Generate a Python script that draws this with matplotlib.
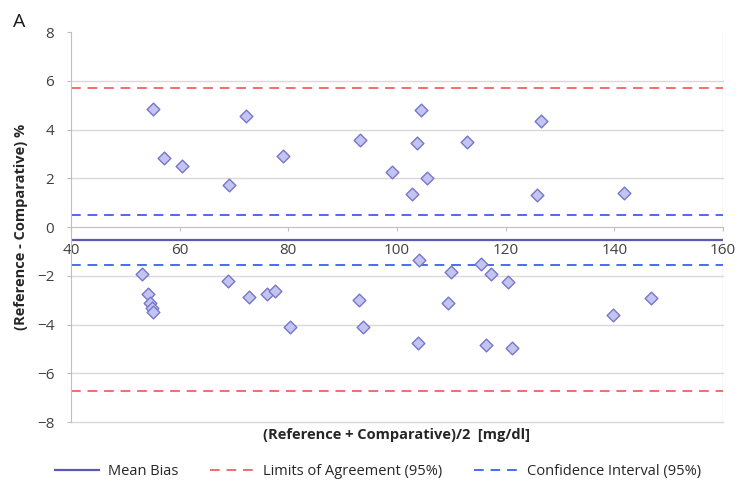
import numpy as np
import matplotlib
matplotlib.use("Agg")
import matplotlib.pyplot as plt
from matplotlib.lines import Line2D

# Datos (promedio, diferencia %)
mean_upper = [55.1, 57.1, 60.4, 69.1, 72.2, 79.1, 93.2, 99.0, 102.8, 103.7,
              104.5, 105.6, 112.8, 126.5, 125.7, 141.7]
diff_upper = [4.83, 2.84, 2.50, 1.72, 4.54, 2.91, 3.57, 2.24, 1.35, 3.43,
              4.80, 2.00, 3.50, 4.36, 1.31, 1.41]
mean_lower = [53.0, 54.2, 54.5, 55.0, 55.1, 68.9, 72.7, 76.1, 77.5, 80.4,
              93.0, 93.8, 104.0, 103.9, 109.3, 109.9, 115.5, 117.3, 116.3,
              120.5, 121.1, 139.8, 146.8]
diff_lower = [-1.93, -2.75, -3.10, -3.31, -3.49, -2.20, -2.89, -2.76, -2.61,
              -4.09, -2.99, -4.12, -1.35, -4.75, -3.10, -1.86, -1.50, -1.93,
              -4.84, -2.24, -4.95, -3.62, -2.93]

mean_bias = -0.52
loa = [5.70, -6.73]
ci = [0.49, -1.56]

x_ticks = [40, 60, 80, 100, 120, 140, 160]
y_ticks = [-8, -6, -4, -2, 0, 2, 4, 6, 8]

plt.rcParams['font.family'] = ['Open Sans', 'DejaVu Sans']

fig = plt.figure(figsize=(7.37, 4.8), dpi=100)
ax = fig.add_axes([0.0963, 0.1208, 0.8847, 0.8125])

x = mean_upper + mean_lower
y = diff_upper + diff_lower

# Grilla horizontal (sin la de 0 ni la de 8)
for yt in y_ticks:
    if yt not in (0, 8):
        ax.axhline(yt, color='#d9d9d9', lw=1.0, zorder=0, clip_on=False)
ax.axvline(160, color='#d9d9d9', lw=1.0, zorder=0)

# Lineas de referencia
ax.axhline(mean_bias, color='#5a5ab4', lw=1.6, zorder=2)
for v in loa:
    ax.axhline(v, color='#f26d6d', lw=1.4, ls=(0, (5, 3.5)), zorder=2)
for v in ci:
    ax.axhline(v, color='#4a6cf0', lw=1.4, ls=(0, (5, 3.5)), zorder=2)

ax.scatter(x, y, marker='D', s=42, facecolor='#c4c4f0', edgecolor='#7676cc',
           linewidth=1.0, zorder=3)

ax.set_xlim(40, 160)
ax.set_ylim(-8, 8)
ax.set_xticks(x_ticks)
ax.set_yticks(y_ticks)

ax.spines['top'].set_visible(False)
ax.spines['right'].set_visible(False)
ax.spines['bottom'].set_position(('data', 0))
ax.spines['bottom'].set_color('#bfbfbf')
ax.spines['left'].set_color('#bfbfbf')

ax.tick_params(axis='x', length=3, pad=8.5, color='#bfbfbf', labelsize=11,
               labelcolor='#404040')
ax.tick_params(axis='y', length=3, pad=9, color='#bfbfbf', labelsize=11,
               labelcolor='#404040')

ax.set_ylabel('(Reference - Comparative) %', fontsize=10.5, fontweight='bold',
              color='#262626', labelpad=6)
fig.text(0.538, 0.094, '(Reference + Comparative)/2  [mg/dl]',
         ha='center', va='center', fontsize=10.5, fontweight='bold', color='#262626')

fig.text(0.018, 0.955, 'A', fontsize=14, color='#1a1a1a', va='center')

handles = [
    Line2D([], [], color='#5a5ab4', lw=1.6),
    Line2D([], [], color='#f26d6d', lw=1.4, ls=(0, (5, 3.5))),
    Line2D([], [], color='#4a6cf0', lw=1.4, ls=(0, (5, 3.5))),
]
labels = ['Mean Bias', 'Limits of Agreement (95%)', 'Confidence Interval (95%)']
fig.legend(handles, labels, loc='center', bbox_to_anchor=(0.513, 0.0167), ncol=3,
           frameon=False, fontsize=10.5, handlelength=3.0, columnspacing=2.2,
           handletextpad=0.6, labelcolor='#262626')

fig.savefig('out.png', dpi=100)
